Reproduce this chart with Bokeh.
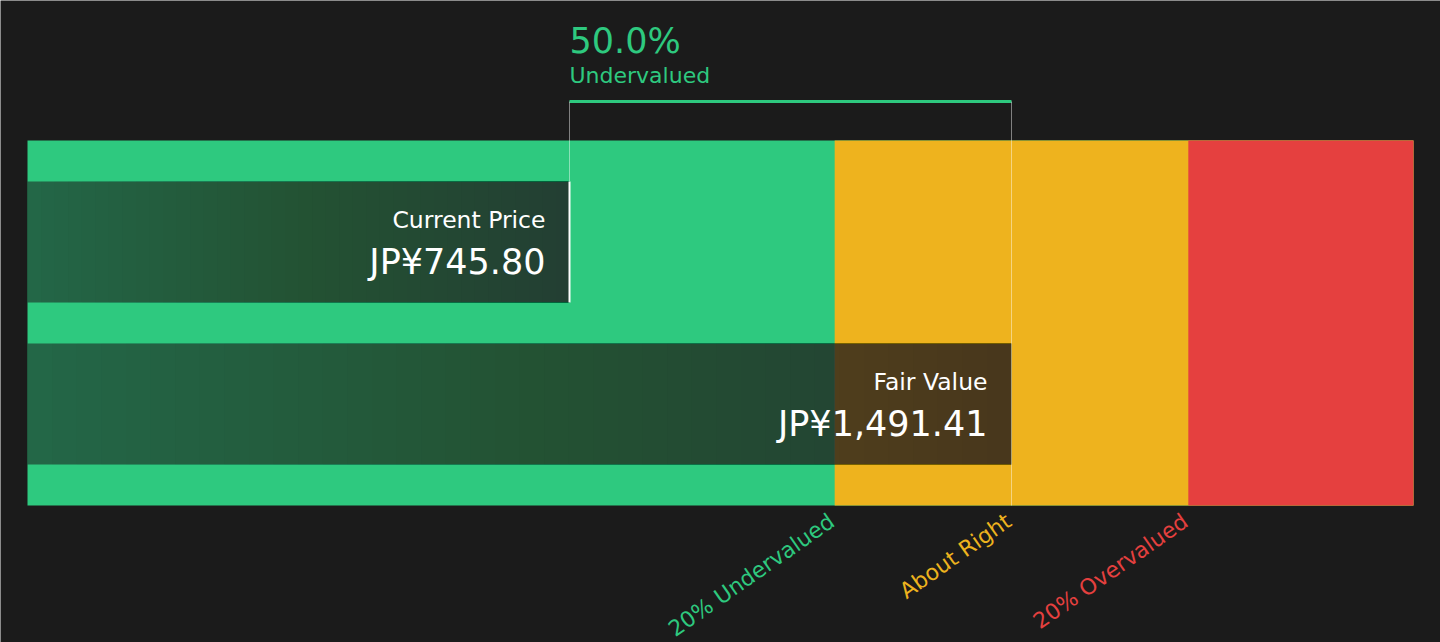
import numpy as np
from bokeh.plotting import figure
from bokeh.models import Range1d
from bokeh.core.properties import value
from bokeh.embed import file_html
from bokeh.resources import INLINE

# ---- data ----
current_price = 745.80
fair_value = 1491.41
price_labels = ["Current Price", "Fair Value"]
price_texts = ["JP¥745.80", "JP¥1,491.41"]
pct_text = "50.0%"
pct_label = "Undervalued"
zone_mults = [0.8, 1.2]            # 20% under / 20% over thresholds
zone_labels = ["20% Undervalued", "About Right", "20% Overvalued"]
zone_colors = ["#2ec97f", "#eeb31e", "#e5403f"]

BG = "#1b1b1b"
FONT = "DejaVu Sans"

# frame spans the whole canvas; band spans x0..x1
view0, view1 = -214.05, 2215.1
x0, x1 = -168.5, 2169.5
p = figure(width=1440, height=642, output_backend="svg", toolbar_location=None,
           x_range=Range1d(view0, view1), y_range=Range1d(0, 642),
           x_axis_type=None, y_axis_type=None,
           min_border_left=0, min_border_right=0, min_border_top=0, min_border_bottom=0)
p.background_fill_color = BG
p.border_fill_color = BG
p.outline_line_color = None
p.grid.visible = False

lo = zone_mults[0] * fair_value
hi = zone_mults[1] * fair_value
band_b, band_t = 137, 502
# layered so that no seams appear between zones
p.quad(left=[x0, lo, hi], right=[x1, x1, x1], bottom=band_b, top=band_t,
       fill_color=zone_colors, line_color=None)

# bars with a stacked (seamless) dark gradient
rows = [(340, 461, current_price), (178, 299, fair_value)]
n = 40
for (b, t, v) in rows:
    p.quad(left=[x0], right=[v], bottom=b, top=t, fill_color=BG, fill_alpha=0.56, line_color=None)
    starts = np.linspace(x0, v, n + 1)[1:-1]
    p.quad(left=starts, right=v, bottom=b, top=t,
           fill_color=BG, fill_alpha=0.02, line_color=None)

# bracket
p.segment(x0=[current_price], x1=[fair_value], y0=[541], y1=[541],
          line_color=zone_colors[0], line_width=3)
p.segment(x0=[current_price, fair_value], x1=[current_price, fair_value],
          y0=[541, 541], y1=[461, band_b], line_color="#ffffff", line_alpha=0.45, line_width=1)
p.segment(x0=[current_price], x1=[current_price], y0=[340], y1=[461],
          line_color="#ffffff", line_width=2)

# top text
p.text(x=[current_price], y=[602], text=[pct_text], text_color=zone_colors[0],
       text_font=value(FONT), text_font_size="35px", text_align="left", text_baseline="alphabetic")
p.text(x=[current_price], y=[567], text=[pct_label], text_color=zone_colors[0],
       text_font=value(FONT), text_font_size="22px", text_align="left", text_baseline="alphabetic")

# bar labels
vals = [current_price, fair_value]
p.text(x=vals, y=[423, 261], text=price_labels, text_color="#ffffff", x_offset=-24,
       text_font=value(FONT), text_font_size="23.5px", text_align="right", text_baseline="alphabetic")
p.text(x=vals, y=[381, 219], text=price_texts, text_color="#ffffff", x_offset=-24,
       text_font=value(FONT), text_font_size="35px", text_align="right", text_baseline="alphabetic")

# zone labels
p.text(x=[lo, fair_value, hi], y=[134, 134, 134], text=zone_labels, text_color=zone_colors,
       angle=np.deg2rad(35), text_font=value(FONT), text_font_size="22px",
       text_align="right", text_baseline="top", x_offset=-10)

open("out.html", "w").write(file_html(p, INLINE))
